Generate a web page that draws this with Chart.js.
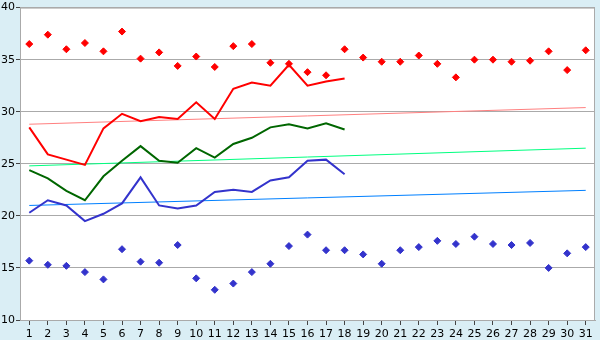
<!DOCTYPE html>
<html>
<head>
<meta charset="utf-8">
<title>Temperatures</title>
<script src="https://cdn.jsdelivr.net/npm/chart.js@4.4.1/dist/chart.umd.min.js"></script>
<style>
    html, body { margin: 0; padding: 0; background: #daeef5; }
    #wrap { width: 600px; height: 340px; }
</style>
</head>
<body>
<div id="wrap"><canvas id="chart" width="600" height="340"></canvas></div>
<script>
var days = ['1', '2', '3', '4', '5', '6', '7', '8', '9', '10', '11', '12', '13', '14', '15', '16',
    '17', '18', '19', '20', '21', '22', '23', '24', '25', '26', '27', '28', '29', '30', '31'];

// record highs / lows per day (diamonds)
var recordMax = [36.5, 37.4, 36.0, 36.6, 35.8, 37.7, 35.1, 35.7, 34.4, 35.3, 34.3, 36.3, 36.5, 34.7, 34.6, 33.8,
    33.5, 36.0, 35.2, 34.8, 34.8, 35.4, 34.6, 33.3, 35.0, 35.0, 34.8, 34.9, 35.8, 34.0, 35.9];
var recordMin = [15.7, 15.3, 15.2, 14.6, 13.9, 16.8, 15.6, 15.5, 17.2, 14.0, 12.9, 13.5, 14.6, 15.4, 17.1, 18.2,
    16.7, 16.7, 16.3, 15.4, 16.7, 17.0, 17.6, 17.3, 18.0, 17.3, 17.2, 17.4, 15.0, 16.4, 17.0];

// this month so far
var maxTemp = [28.5, 25.9, 25.4, 24.9, 28.4, 29.8, 29.1, 29.5, 29.3, 30.9, 29.3, 32.2, 32.8, 32.5, 34.5, 32.5, 32.9, 33.2];
var meanTemp = [24.4, 23.6, 22.4, 21.5, 23.8, 25.3, 26.7, 25.3, 25.1, 26.5, 25.6, 26.9, 27.5, 28.5, 28.8, 28.4, 28.9, 28.3];
var minTemp = [20.3, 21.5, 21.0, 19.5, 20.2, 21.2, 23.7, 21.0, 20.7, 21.0, 22.3, 22.5, 22.3, 23.4, 23.7, 25.3, 25.4, 24.0];

// normals, first and last day
var normalMax = [28.8, 30.4];
var normalMean = [24.8, 26.5];
var normalMin = [21.0, 22.45];

var yTicks = [10, 15, 20, 25, 30, 35, 40];

function endsOnly(pair) {
    var out = [];
    for (var i = 0; i < days.length; i++) {
        out.push(null);
    }
    out[0] = pair[0];
    out[days.length - 1] = pair[1];
    return out;
}

function lineSet(data, color, width) {
    return {
        data: data,
        borderColor: color,
        backgroundColor: color,
        borderWidth: width,
        pointRadius: 0,
        tension: 0,
        spanGaps: true,
        fill: false
    };
}

function dotSet(data, color) {
    return {
        data: data,
        showLine: false,
        borderColor: color,
        backgroundColor: color,
        pointStyle: 'rectRot',
        pointRadius: 3.5,
        pointBorderWidth: 1
    };
}

// white plot area with grey frame
var plotArea = {
    id: 'plotArea',
    beforeDraw: function(chart) {
        var a = chart.chartArea, ctx = chart.ctx;
        ctx.save();
        ctx.fillStyle = '#ffffff';
        ctx.fillRect(a.left, a.top, a.right - a.left, a.bottom - a.top);
        ctx.restore();
    },
    afterDraw: function(chart) {
        var a = chart.chartArea, ctx = chart.ctx;
        ctx.save();
        ctx.strokeStyle = '#aaaaaa';
        ctx.lineWidth = 1;
        ctx.strokeRect(a.left + 0.5, a.top + 0.5, a.right - a.left - 1, a.bottom - a.top);
        ctx.restore();
    }
};

var ctx = document.getElementById('chart').getContext('2d');
var chart = new Chart(ctx, {
    type: 'line',
    data: {
        labels: days,
        datasets: [
            lineSet(maxTemp, '#ff0000', 2),
            lineSet(meanTemp, '#006600', 2),
            lineSet(minTemp, '#3333cc', 2),
            dotSet(recordMax, '#ff0000'),
            dotSet(recordMin, '#3333cc'),
            lineSet(endsOnly(normalMax), '#ff8080', 1),
            lineSet(endsOnly(normalMean), '#00ff80', 1),
            lineSet(endsOnly(normalMin), '#0080ff', 1)
        ]
    },
    options: {
        responsive: false,
        animation: false,
        layout: { padding: { top: 5, right: 5, left: 0, bottom: 0 } },
        plugins: {
            legend: { display: false },
            tooltip: { enabled: false }
        },
        scales: {
            x: {
                type: 'category',
                offset: true,
                grid: { display: true, drawOnChartArea: false, drawTicks: true, tickLength: 5, color: '#444444', offset: false },
                border: { color: '#aaaaaa' },
                ticks: { color: '#000000', font: { family: 'DejaVu Sans', size: 11 }, padding: 3, maxRotation: 0, autoSkip: false },
                afterFit: function(scale) { scale.height = 20; }
            },
            y: {
                min: yTicks[0],
                max: yTicks[yTicks.length - 1],
                afterBuildTicks: function(scale) {
                    scale.ticks = yTicks.map(function(v) { return { value: v }; });
                },
                grid: { color: '#aaaaaa', tickLength: 4, tickColor: '#444444' },
                border: { color: '#aaaaaa' },
                ticks: { color: '#000000', font: { family: 'DejaVu Sans', size: 11 }, padding: 1 },
                afterFit: function(scale) { scale.width = 20; }
            }
        }
    },
    plugins: [plotArea]
});
</script>
</body>
</html>
